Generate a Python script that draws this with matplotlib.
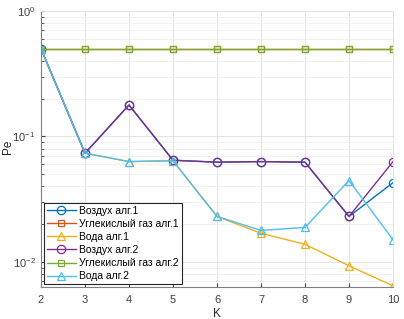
import matplotlib
matplotlib.use("Agg")
import matplotlib.pyplot as plt
from matplotlib.ticker import LogLocator, NullFormatter

plt.rcParams['font.family'] = ['Liberation Sans', 'DejaVu Sans']
plt.rcParams['mathtext.default'] = 'regular'

K = [2, 3, 4, 5, 6, 7, 8, 9, 10]
air_alg1 = [0.5, 0.0735, 0.178, 0.0646, 0.0623, 0.063, 0.0623, 0.023, 0.0428]
co2_alg1 = [0.5, 0.5, 0.5, 0.5, 0.5, 0.5, 0.5, 0.5, 0.5]
water_alg1 = [0.5, 0.0735, 0.063, 0.064, 0.023, 0.0169, 0.0138, 0.0093, 0.00644]
air_alg2 = [0.5, 0.0735, 0.178, 0.0646, 0.0623, 0.063, 0.0623, 0.023, 0.063]
co2_alg2 = [0.5, 0.5, 0.5, 0.5, 0.5, 0.5, 0.5, 0.5, 0.5]
water_alg2 = [0.5, 0.0735, 0.063, 0.064, 0.023, 0.0178, 0.0188, 0.0445, 0.015]

labels = ['Воздух алг.1', 'Углекислый газ алг.1', 'Вода алг.1',
          'Воздух алг.2', 'Углекислый газ алг.2', 'Вода алг.2']
series = [air_alg1, co2_alg1, water_alg1, air_alg2, co2_alg2, water_alg2]
colors = ['#0072BD', '#D95319', '#EDB120', '#7E2F8E', '#77AC30', '#4DBEEE']
markers = ['o', 's', '^', 'o', 's', '^']
msizes = [6, 5, 6, 6, 5, 6]

fig = plt.figure(figsize=(4.04, 3.19), dpi=100)
ax = fig.add_axes([0.1015, 0.1003, 0.8713, 0.8652])

for y, lab, c, m, ms in zip(series, labels, colors, markers, msizes):
    ax.plot(K, y, color=c, marker=m, markersize=ms, markerfacecolor='none',
            markeredgewidth=0.9, linewidth=1.0, label=lab)

ax.set_yscale('log')
ax.set_xlim(2, 10)
ax.set_ylim(0.0063, 1)
ax.set_xticks(K)
ax.yaxis.set_major_locator(LogLocator(base=10, numticks=10))
ax.yaxis.set_minor_locator(LogLocator(base=10, subs=range(2, 10), numticks=10))
ax.yaxis.set_minor_formatter(NullFormatter())

ax.grid(True, which='major', color='#e3e3e3', linewidth=0.7)
ax.grid(True, which='minor', axis='y', color='#eeeeee', linewidth=0.6)
ax.set_axisbelow(True)

for s in ['left', 'bottom']:
    ax.spines[s].set_color('#808080')
    ax.spines[s].set_linewidth(0.8)
for s in ['top', 'right']:
    ax.spines[s].set_color('#e3e3e3')
    ax.spines[s].set_linewidth(0.7)

ax.tick_params(which='both', direction='in', colors='#404040', labelsize=8,
               top=False, right=False)
ax.tick_params(which='major', length=3)
ax.tick_params(which='minor', length=2)
ax.tick_params(axis='x', which='major', pad=5.5)
ax.tick_params(axis='y', which='major', pad=4)

ax.set_xlabel('K', fontsize=8.5, color='#262626')
ax.set_ylabel('Pe', fontsize=8.5, color='#262626')
ax.xaxis.set_label_coords(0.5, -0.075)
ax.yaxis.set_label_coords(-0.078, 0.507)

leg = ax.legend(loc='lower left', fontsize=7.5, frameon=True, fancybox=False,
                edgecolor='#262626', framealpha=1, borderpad=0.3,
                labelspacing=0.3, handlelength=2.8, handletextpad=0.3,
                borderaxespad=0.25)
leg.get_frame().set_linewidth(0.8)

fig.savefig('out.png', dpi=100)
